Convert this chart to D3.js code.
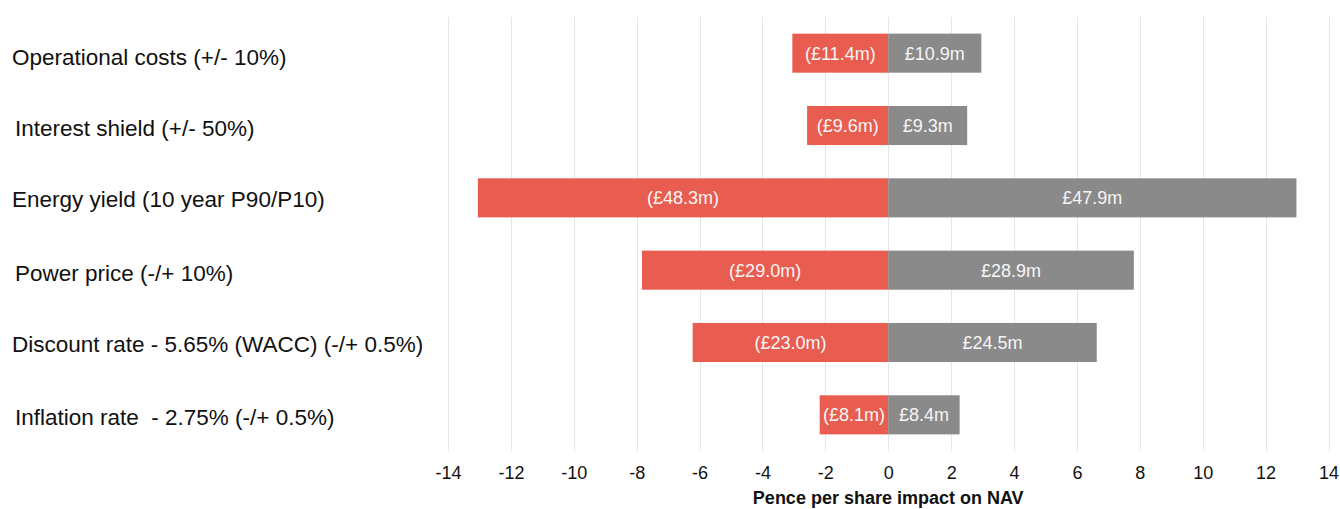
<!DOCTYPE html>
<html>
<head>
<meta charset="utf-8">
<script src="https://cdn.jsdelivr.net/npm/d3@7"></script>
<style>
  html, body { margin: 0; padding: 0; background: #fff; }
  svg { display: block; font-family: "Liberation Sans", Arial, sans-serif; }
</style>
</head>
<body>
<svg id="chart" width="1340" height="509"></svg>
<script>
const categories = [
  "Operational costs (+/- 10%)",
  "Interest shield (+/- 50%)",
  "Energy yield (10 year P90/P10)",
  "Power price (-/+ 10%)",
  "Discount rate - 5.65% (WACC) (-/+ 0.5%)",
  "Inflation rate  - 2.75% (-/+ 0.5%)"
];
const downside = [-3.05, -2.58, -13.05, -7.83, -6.22, -2.18];
const upside = [2.96, 2.51, 12.98, 7.81, 6.63, 2.27];
const downsideLabels = ["(£11.4m)", "(£9.6m)", "(£48.3m)", "(£29.0m)", "(£23.0m)", "(£8.1m)"];
const upsideLabels = ["£10.9m", "£9.3m", "£47.9m", "£28.9m", "£24.5m", "£8.4m"];
const xTicks = [-14, -12, -10, -8, -6, -4, -2, 0, 2, 4, 6, 8, 10, 12, 14];
const axisTitle = "Pence per share impact on NAV";

const svg = d3.select("#chart");
const x = d3.scaleLinear().domain([-14, 14]).range([448, 1328.5]);
const y = d3.scaleBand().domain(categories).range([17, 451]).paddingInner(0.46).paddingOuter(0.23);

// gridlines
svg.append("g").selectAll("line").data(xTicks).join("line")
  .attr("x1", d => Math.round(x(d)) + 0.5).attr("x2", d => Math.round(x(d)) + 0.5)
  .attr("y1", 17).attr("y2", 451)
  .attr("stroke", "#e6e6e6").attr("stroke-width", 1);

const rows = categories.map((c, i) => ({c, lo: downside[i], hi: upside[i], loL: downsideLabels[i], hiL: upsideLabels[i]}));

// bars
svg.append("g").selectAll("rect").data(rows).join("rect")
  .attr("x", d => x(d.lo)).attr("width", d => x(0) - x(d.lo))
  .attr("y", d => y(d.c)).attr("height", y.bandwidth())
  .attr("fill", "#e85d4f");
svg.append("g").selectAll("rect").data(rows).join("rect")
  .attr("x", x(0)).attr("width", d => x(d.hi) - x(0))
  .attr("y", d => y(d.c)).attr("height", y.bandwidth())
  .attr("fill", "#8a8a8a");

// value labels
svg.append("g").selectAll("text").data(rows).join("text")
  .attr("x", d => (x(d.lo) + x(0)) / 2).attr("y", d => y(d.c) + y.bandwidth() / 2)
  .attr("dy", "0.36em").attr("text-anchor", "middle")
  .attr("font-size", 18).attr("fill", "#f6f6f6").text(d => d.loL);
svg.append("g").selectAll("text").data(rows).join("text")
  .attr("x", d => (x(d.hi) + x(0)) / 2).attr("y", d => y(d.c) + y.bandwidth() / 2)
  .attr("dy", "0.36em").attr("text-anchor", "middle")
  .attr("font-size", 18).attr("fill", "#f6f6f6").text(d => d.hiL);

// category labels
const indent = [0, 3, 0, 3, 0, 3];
const lift = [4, 2, 1, 3, 1, 2];
svg.append("g").selectAll("text").data(categories).join("text")
  .attr("x", (d, i) => 12 + indent[i]).attr("y", (d, i) => y(d) + y.bandwidth() / 2 + lift[i])
  .attr("dy", "0.36em").attr("font-size", 22.5).attr("fill", "#111")
  .style("white-space", "pre")
  .text(d => d);

// x axis
const ax = svg.append("g").attr("transform", "translate(0,451)")
  .call(d3.axisBottom(x).tickValues(xTicks).tickSize(0).tickPadding(15).tickFormat(d => String(d)));
ax.select(".domain").remove();
ax.selectAll("text").attr("font-size", 18).attr("fill", "#111")
  .style("font-family", "'Liberation Sans', Arial, sans-serif");

svg.append("text").attr("x", x(0)).attr("y", 504).attr("text-anchor", "middle")
  .attr("font-size", 18).attr("font-weight", "bold").attr("fill", "#111").text(axisTitle);
</script>
</body>
</html>
